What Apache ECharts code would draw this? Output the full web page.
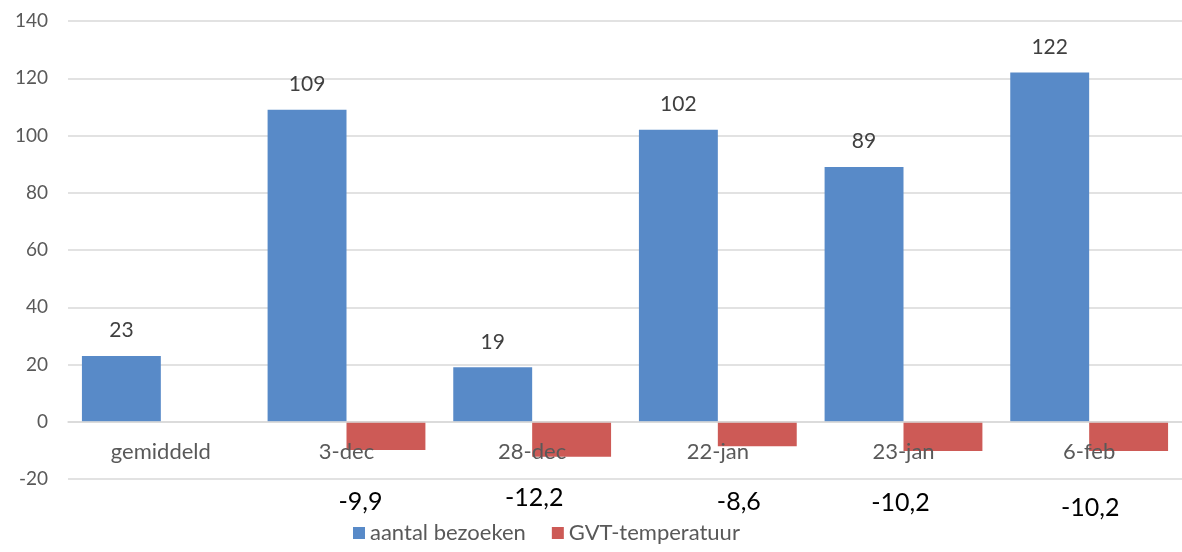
<!DOCTYPE html>
<html><head><meta charset="utf-8">
<script src="https://cdn.jsdelivr.net/npm/echarts@6/dist/echarts.min.js"></script>
<style>html,body{margin:0;padding:0;background:#fff}#c{width:1182px;height:552px}</style>
</head><body><div id="c"></div>
<script>
const categories = ['gemiddeld', '3-dec', '28-dec', '22-jan', '23-jan', '6-feb'];
const visits = [23, 109, 19, 102, 89, 122];
const temperature = [null, -9.9, -12.2, -8.6, -10.2, -10.2];
const yTicks = { min: -20, max: 140, interval: 20 };
const seriesNames = ['aantal bezoeken', 'GVT-temperatuur'];

const chart = echarts.init(document.getElementById('c'), null, { renderer: 'canvas' });
const font = 'Lato, "Noto Sans", sans-serif';
const labelOffsets = [0, 14, 2, 21, -3, 1];
const labelYs = [-28.1, -28.1, -26.6, -28.1, -28.3, -30.2];

chart.setOption({
  animation: false,
  textStyle: { fontFamily: font },
  grid: { left: 68, right: 0, top: 21, bottom: 73, containLabel: false },
  legend: {
    left: 348, bottom: 3, itemWidth: 12, itemHeight: 12, itemGap: 26, icon: 'rect',
    textStyle: { fontSize: 22, color: '#595959', fontFamily: font },
    data: seriesNames
  },
  xAxis: {
    type: 'category', data: categories,
    offset: -57, z: 5,
    axisLine: { onZero: false, lineStyle: { color: '#d9d9d9', width: 1.5 } },
    axisTick: { show: false },
    axisLabel: { color: '#595959', fontSize: 22, margin: 19, fontFamily: font }
  },
  yAxis: {
    type: 'value', min: yTicks.min, max: yTicks.max, interval: yTicks.interval,
    axisLine: { show: false }, axisTick: { show: false },
    axisLabel: { color: '#595959', fontSize: 19, margin: 20, fontFamily: font },
    splitLine: { lineStyle: { color: '#d9d9d9', width: 1.5 } }
  },
  series: [
    {
      name: seriesNames[0], type: 'bar', data: visits,
      barGap: '0%', barCategoryGap: '15%',
      itemStyle: { color: '#588AC8' },
      label: { show: true, position: 'top', distance: 15, color: '#404040', fontSize: 21, fontFamily: font }
    },
    {
      name: seriesNames[1], type: 'bar', data: temperature,
      itemStyle: { color: '#CD5A56' },
      label: {
        show: true, position: 'bottom', color: '#000', fontSize: 25, fontFamily: font,
        formatter: p => String(p.value).replace('.', ',')
      },
      labelLayout: function (params) {
        const i = params.dataIndex;
        const cx = chart.convertToPixel({ xAxisIndex: 0 }, i);
        const y = chart.convertToPixel({ yAxisIndex: 0 }, labelYs[i]);
        return { x: cx + labelOffsets[i], y: y, align: 'center', verticalAlign: 'middle' };
      }
    }
  ]
});
</script></body></html>
